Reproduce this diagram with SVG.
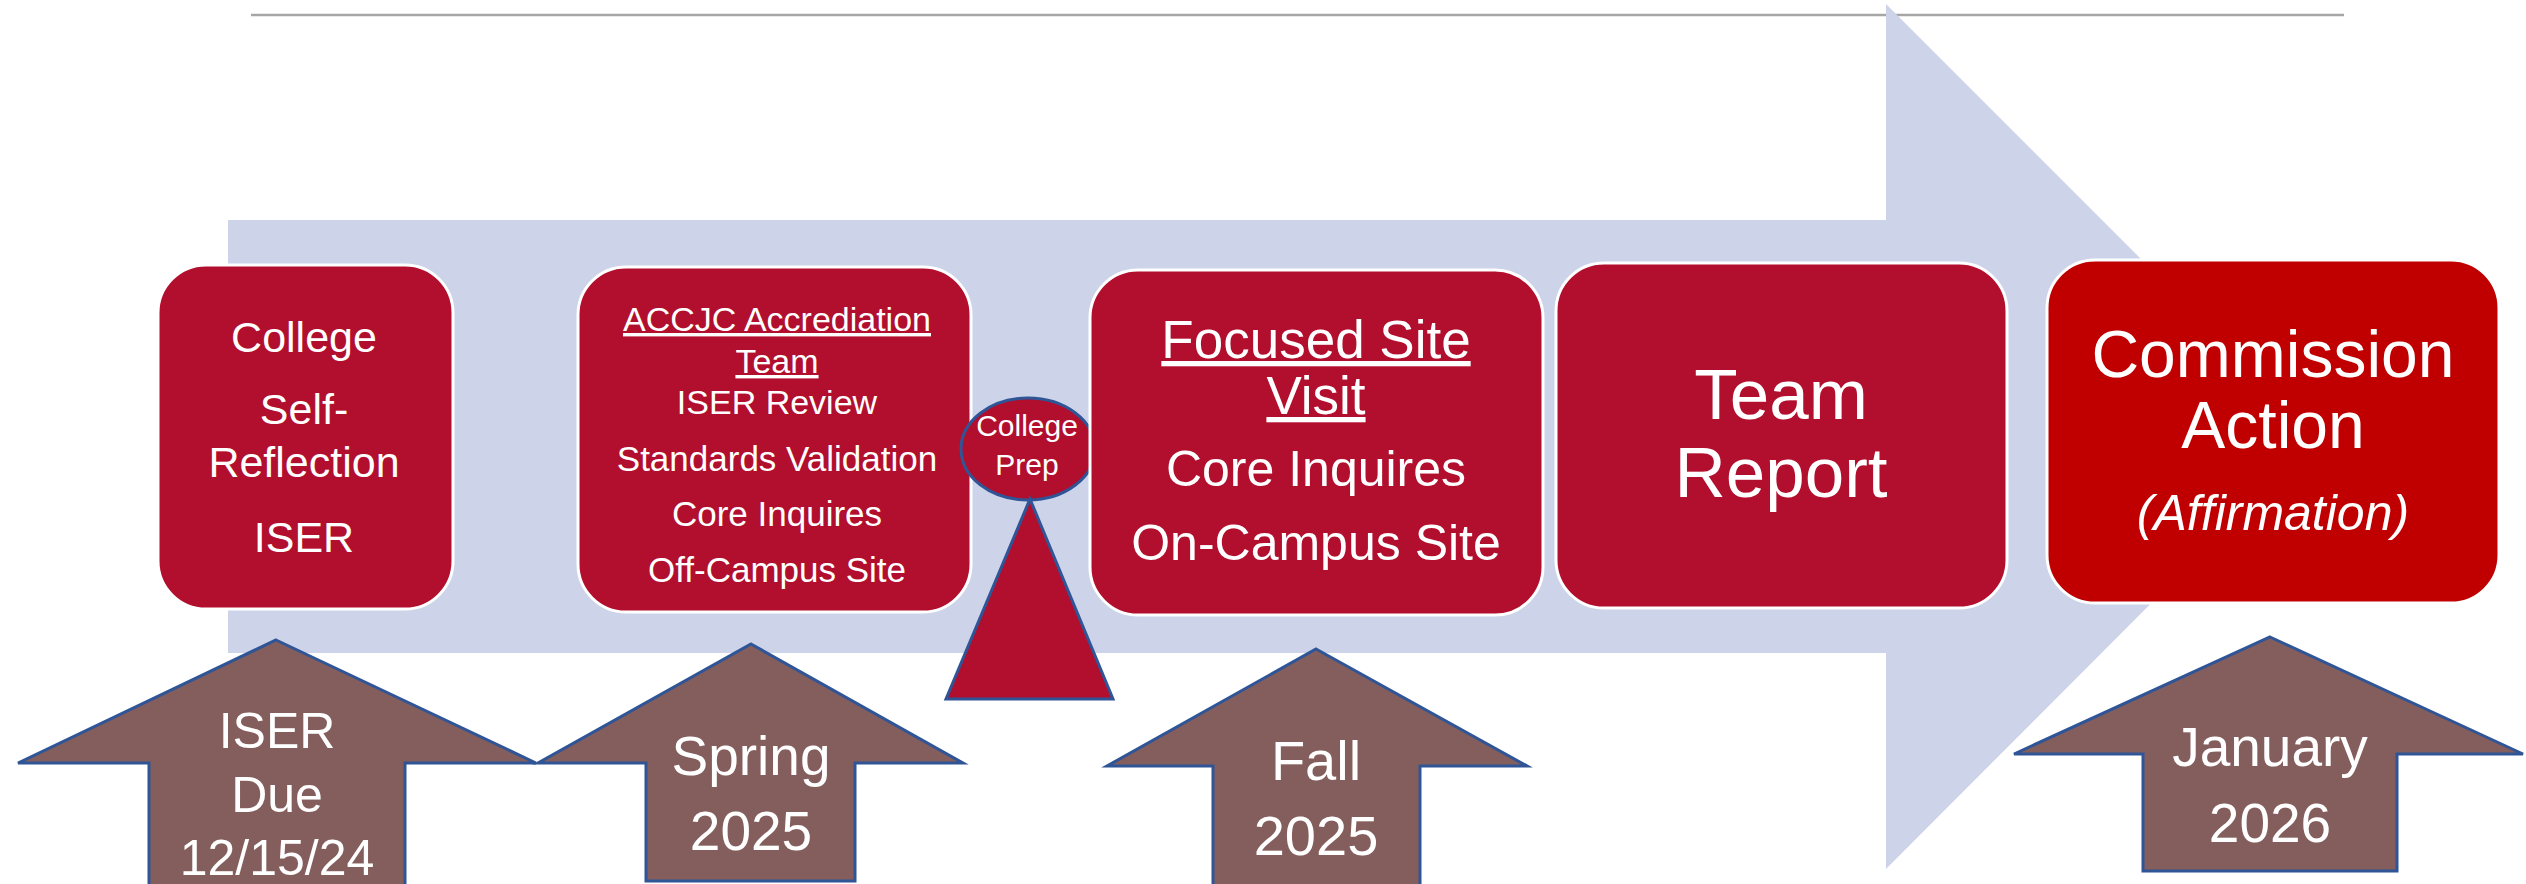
<svg xmlns="http://www.w3.org/2000/svg" width="2526" height="884" viewBox="0 0 2526 884">
<style>
.box{fill:#b20e2d;stroke:#ffffff;stroke-width:3}
.box2{fill:#c00000;stroke:#ffffff;stroke-width:3}
.up{fill:#845e5c;stroke:#2f5597;stroke-width:3;stroke-linejoin:miter}
.pin{fill:#b20e2d;stroke:#2f5597;stroke-width:3}
.t{font-family:"Liberation Sans",Arial,sans-serif;fill:#ffffff;text-anchor:middle}
.u{text-decoration:underline}
</style>
<rect width="2526" height="884" fill="#ffffff"/>
<line x1="251" y1="15" x2="2344" y2="15" stroke="#a6a6a6" stroke-width="2.5"/>
<g id="connectors">
  <polygon id="timeline-arrow" points="228,220 1886,220 1886,4 2318,436 1886,869 1886,653 228,653" fill="#cdd4ea"/>
</g>
<g id="node-self-reflection">
  <rect class="box" x="158" y="265" width="295" height="344" rx="48" ry="48"/>
  <text class="t" font-size="43" x="304" y="352">College</text>
  <text class="t" font-size="43" x="304" y="424">Self-</text>
  <text class="t" font-size="43" x="304" y="477">Reflection</text>
  <text class="t" font-size="43" x="304" y="552">ISER</text>
</g>
<g id="node-accjc-team">
  <rect class="box" x="578" y="267" width="393" height="345" rx="48" ry="48"/>
  <text class="t u" font-size="34" x="777" y="331">ACCJC Accrediation</text>
  <text class="t u" font-size="34" x="777" y="373">Team</text>
  <text class="t" font-size="34" x="777" y="414">ISER Review</text>
  <text class="t" font-size="35" x="777" y="471">Standards Validation</text>
  <text class="t" font-size="35" x="777" y="526">Core Inquires</text>
  <text class="t" font-size="35" x="777" y="582">Off-Campus Site</text>
</g>
<g id="node-college-prep">
  <ellipse class="pin" cx="1028" cy="449" rx="67" ry="51"/>
  <polygon class="pin" points="1030,499 1113,699 946,699"/>
  <text class="t" font-size="30" x="1027" y="436" fill="#f2f2f2">College</text>
  <text class="t" font-size="30" x="1027" y="475" fill="#f2f2f2">Prep</text>
</g>
<g id="node-focused-site-visit">
  <rect class="box" x="1090" y="270" width="453" height="345" rx="48" ry="48"/>
  <text class="t u" font-size="53" x="1316" y="358">Focused Site</text>
  <text class="t u" font-size="53" x="1316" y="414">Visit</text>
  <text class="t" font-size="50" x="1316" y="486">Core Inquires</text>
  <text class="t" font-size="50" x="1316" y="560">On-Campus Site</text>
</g>
<g id="node-team-report">
  <rect class="box" x="1556" y="263" width="451" height="345" rx="48" ry="48"/>
  <text class="t" font-size="71" x="1781" y="419">Team</text>
  <text class="t" font-size="71" x="1781" y="497">Report</text>
</g>
<g id="node-commission-action">
  <rect class="box2" x="2047" y="260" width="452" height="343" rx="48" ry="48"/>
  <text class="t" font-size="66" x="2273" y="377">Commission</text>
  <text class="t" font-size="66" x="2273" y="448">Action</text>
  <text class="t" font-size="50" font-style="italic" x="2273" y="530">(Affirmation)</text>
</g>
<g id="node-iser-due">
  <polygon class="up" points="276,640 536,763 405,763 405,900 149,900 149,763 18,763"/>
  <text class="t" font-size="50" x="277" y="748">ISER</text>
  <text class="t" font-size="50" x="277" y="812">Due</text>
  <text class="t" font-size="50" x="277" y="875">12/15/24</text>
</g>
<g id="node-spring-2025">
  <polygon class="up" points="751,644 963,763 855,763 855,881 646,881 646,763 538,763"/>
  <text class="t" font-size="55" x="751" y="775">Spring</text>
  <text class="t" font-size="55" x="751" y="850">2025</text>
</g>
<g id="node-fall-2025">
  <polygon class="up" points="1316,649 1527,766 1420,766 1420,900 1213,900 1213,766 1107,766"/>
  <text class="t" font-size="56" x="1316" y="780">Fall</text>
  <text class="t" font-size="56" x="1316" y="855">2025</text>
</g>
<g id="node-january-2026">
  <polygon class="up" points="2270,637 2523,754 2397,754 2397,871 2143,871 2143,754 2014,754"/>
  <text class="t" font-size="55" x="2270" y="766">January</text>
  <text class="t" font-size="55" x="2270" y="842">2026</text>
</g>
</svg>
